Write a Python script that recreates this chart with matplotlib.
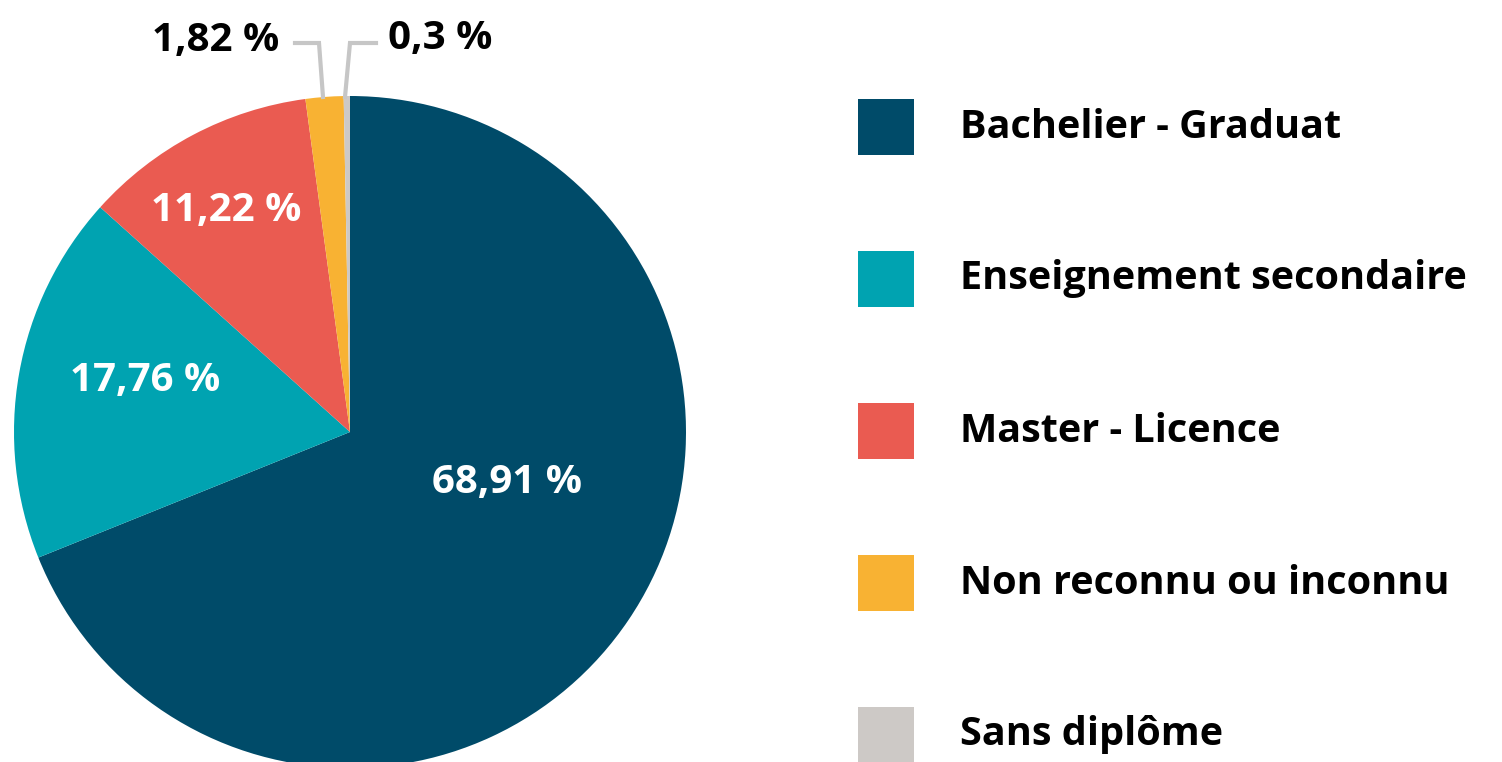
import matplotlib.pyplot as plt
from matplotlib.patches import Rectangle

# =====================================================
# DADOS
# =====================================================
categories = ['Bachelier - Graduat', 'Enseignement secondaire', 'Master - Licence',
              'Non reconnu ou inconnu', 'Sans diplôme']
values = [68.91, 17.76, 11.22, 1.82, 0.3]
labels = ['68,91 %', '17,76 %', '11,22 %', '1,82 %', '0,3 %']
colors = ['#004b69', '#00a3b1', '#ea5b51', '#f8b233', '#cdc9c6']

plt.rcParams['font.family'] = ['Open Sans', 'DejaVu Sans']

W, H = 1502, 762
fig = plt.figure(figsize=(W / 100, H / 100), dpi=100)
ax = fig.add_axes([0, 0, 1, 1])

# pixel coords -> y para cima
def py(y):
    return H - y

# =====================================================
# PIZZA
# =====================================================
ax.pie(values, colors=colors, startangle=90, counterclock=False,
       center=(350, py(432)), radius=336, frame=True,
       wedgeprops={'linewidth': 0})
ax.set_xlim(0, W)
ax.set_ylim(0, H)
ax.set_aspect('equal')
ax.axis('off')

# rótulos dentro
inside = [(507, 482), (145, 380), (226, 210)]
for (x, y), lab in zip(inside, labels[:3]):
    ax.text(x, py(y), lab, color='white', fontsize=29, fontweight='bold',
            ha='center', va='center')

# rótulos fora com linhas
ax.text(216, py(40), labels[3], color='black', fontsize=29, fontweight='bold',
        ha='center', va='center')
ax.text(440, py(38), labels[4], color='black', fontsize=29, fontweight='bold',
        ha='center', va='center')
line_c = '#c6c6c6'
ax.plot([295, 319, 323], [py(43), py(43), py(97)], color=line_c, lw=3, solid_joinstyle='miter')
ax.plot([376, 350, 345], [py(43), py(43), py(97)], color=line_c, lw=3, solid_joinstyle='miter')

# =====================================================
# LEGENDA
# =====================================================
y0 = 127
step = 152
for i, (cat, col) in enumerate(zip(categories, colors)):
    yc = y0 + i * step
    ax.add_patch(Rectangle((858, py(yc + 28)), 56, 56, color=col, lw=0))
    ax.text(960, py(yc), cat, color='black', fontsize=28.5, fontweight='bold',
            ha='left', va='center')

fig.savefig('out.png', dpi=100, facecolor='white')
